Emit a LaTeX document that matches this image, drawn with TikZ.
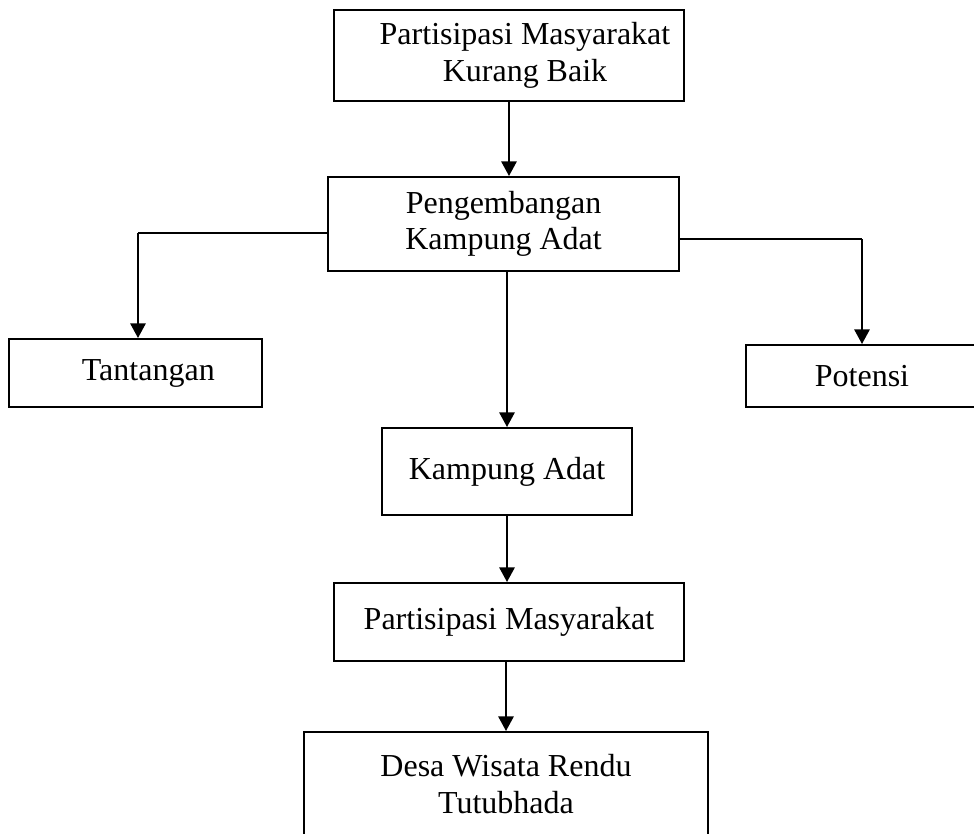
\documentclass[tikz,border=0pt]{standalone}
\usepackage{fontspec}
\setmainfont{Liberation Serif}
\usetikzlibrary{arrows.meta}

\tikzset{
	box/.style = {draw=black, line width=1.5pt, fill=white, inner sep=0pt, align=center,
		font=\fontsize{24pt}{27.5pt}\selectfont},
	link/.style = {draw=black, line width=1pt},
	arrow/.style = {draw=black, line width=1.5pt, -{Triangle[length=11pt,width=11.5pt]}}
}

\begin{document}
\begin{tikzpicture}[x=0.75pt, y=-0.75pt]
	\useasboundingbox (0,0) rectangle (974,833);
	\node[box, minimum width=262.5pt, minimum height=68.25pt] (kurang) at (509,55.5) {\hspace*{1em}Partisipasi Masyarakat\\\hspace*{1em}Kurang Baik};
	\node[box, minimum width=263.25pt, minimum height=70.5pt] (pengembangan) at (503.5,224) {Pengembangan\\Kampung Adat};
	\node[box, minimum width=189.75pt, minimum height=51pt] (tantangan) at (135.5,373) {\hspace*{0.8em}Tantangan};
	\node[box, minimum width=174pt, minimum height=46.5pt] (potensi) at (862,376) {Potensi};
	\node[box, minimum width=187.5pt, minimum height=65.25pt] (kampung) at (507,471.5) {Kampung Adat};
	\node[box, minimum width=262.5pt, minimum height=58.5pt] (partisipasi) at (509,622) {Partisipasi Masyarakat};
	\node[box, minimum width=303pt, minimum height=78pt] (desa) at (506,784) {Desa Wisata Rendu\\Tutubhada};

	\coordinate (kiri) at (138,233);
	\coordinate (kanan) at (862,239);

	\draw[arrow] (kurang.south) -- (kurang.south |- pengembangan.north);
	\draw[link] (pengembangan.west |- kiri) -- (kiri);
	\draw[arrow] (kiri) -- (kiri |- tantangan.north);
	\draw[link] (pengembangan.east |- kanan) -- (kanan);
	\draw[arrow] (kanan) -- (kanan |- potensi.north);
	\draw[arrow] (kampung.north |- pengembangan.south) -- (kampung.north);
	\draw[arrow] (kampung.south) -- (kampung.south |- partisipasi.north);
	\draw[arrow] (desa.north |- partisipasi.south) -- (desa.north);
\end{tikzpicture}
\end{document}
